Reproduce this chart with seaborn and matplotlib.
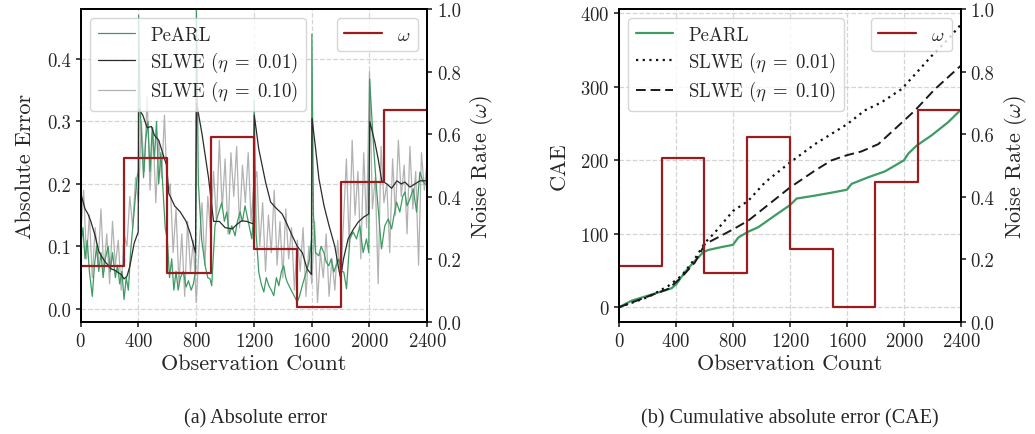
import numpy as np
import pandas as pd
import matplotlib
matplotlib.use('Agg')
import matplotlib.pyplot as plt
import seaborn as sns

# ---- noise rate omega (piecewise constant) ----
omega_edges = [0, 300, 600, 900, 1200, 1500, 1800, 2100, 2400]
omega_vals = [0.18, 0.525, 0.157, 0.59, 0.232, 0.048, 0.447, 0.677]

# ---- (a) absolute error ----
pearl_x = [0, 15, 30, 45, 60, 80, 95, 110, 125, 140, 155, 170, 190, 205, 220, 240, 255, 270, 285, 300,
           315, 330, 345, 360, 375, 390, 398, 401, 410, 420, 435, 450, 465, 480, 495, 510, 525, 540, 555,
           570, 585, 600, 615, 630, 645, 660, 675, 690, 711, 730, 746, 765, 780, 795, 801, 815, 838, 861,
           880, 896, 907, 930, 950, 977, 995, 1011, 1030, 1046, 1069, 1085, 1104, 1120, 1138, 1161, 1185,
           1198, 1201, 1215, 1233, 1250, 1268, 1285, 1303, 1320, 1337, 1355, 1372, 1390, 1406, 1420, 1430,
           1447, 1464, 1480, 1499, 1515, 1534, 1550, 1568, 1585, 1598, 1601, 1612, 1626, 1649, 1665, 1684,
           1700, 1718, 1735, 1753, 1770, 1788, 1805, 1822, 1841, 1864, 1887, 1910, 1933, 1956, 1979, 1995,
           2001, 2025, 2049, 2072, 2083, 2106, 2130, 2153, 2170, 2187, 2210, 2230, 2245, 2260, 2280, 2303,
           2326, 2349, 2372, 2400]
pearl_err = [0.10, 0.13, 0.08, 0.11, 0.06, 0.02, 0.07, 0.10, 0.06, 0.09, 0.05, 0.08, 0.10, 0.06, 0.09, 0.05,
             0.07, 0.04, 0.06, 0.015, 0.05, 0.03, 0.09, 0.13, 0.17, 0.21, 0.22, 0.47, 0.33, 0.28, 0.21, 0.27,
             0.30, 0.22, 0.29, 0.24, 0.30, 0.20, 0.25, 0.19, 0.13, 0.11, 0.05, 0.08, 0.03, 0.06, 0.03, 0.05,
             0.06, 0.035, 0.045, 0.03, 0.04, 0.06, 0.48, 0.20, 0.11, 0.07, 0.05, 0.048, 0.037, 0.133, 0.15,
             0.17, 0.14, 0.155, 0.12, 0.133, 0.117, 0.14, 0.155, 0.14, 0.165, 0.139, 0.112, 0.15, 0.334,
             0.12, 0.059, 0.04, 0.027, 0.05, 0.037, 0.03, 0.021, 0.05, 0.037, 0.06, 0.069, 0.05, 0.043, 0.035,
             0.027, 0.02, 0.011, 0.02, 0.037, 0.05, 0.064, 0.08, 0.112, 0.44, 0.15, 0.09, 0.085, 0.10, 0.09,
             0.075, 0.069, 0.08, 0.059, 0.07, 0.08, 0.06, 0.059, 0.032, 0.112, 0.123, 0.112, 0.133, 0.09,
             0.112, 0.09, 0.368, 0.272, 0.192, 0.128, 0.096, 0.133, 0.144, 0.128, 0.15, 0.171, 0.155, 0.18,
             0.187, 0.165, 0.176, 0.192, 0.155, 0.219, 0.203, 0.197]

slwe01_x = [0, 30, 50, 70, 100, 125, 150, 170, 190, 210, 235, 260, 280, 300, 320, 340, 370, 398, 402, 430,
            460, 490, 510, 540, 560, 580, 595, 610, 650, 690, 730, 760, 795, 802, 840, 885, 920, 960, 1000,
            1050, 1080, 1115, 1150, 1195, 1202, 1233, 1280, 1315, 1350, 1395, 1430, 1465, 1500, 1535, 1568,
            1598, 1602, 1625, 1650, 1685, 1720, 1760, 1790, 1800, 1820, 1852, 1890, 1922, 1960, 1995, 2002,
            2037, 2060, 2085, 2120, 2153, 2190, 2220, 2245, 2280, 2315, 2350, 2400]
slwe01_err = [0.185, 0.16, 0.152, 0.14, 0.117, 0.092, 0.082, 0.075, 0.07, 0.064, 0.062, 0.058, 0.055, 0.048,
              0.052, 0.068, 0.105, 0.123, 0.32, 0.31, 0.29, 0.292, 0.278, 0.27, 0.255, 0.24, 0.23, 0.185,
              0.165, 0.155, 0.14, 0.12, 0.09, 0.33, 0.28, 0.21, 0.14, 0.14, 0.13, 0.128, 0.135, 0.141, 0.14,
              0.136, 0.31, 0.256, 0.203, 0.171, 0.162, 0.152, 0.135, 0.117, 0.10, 0.09, 0.064, 0.055, 0.305,
              0.26, 0.208, 0.165, 0.133, 0.10, 0.06, 0.05, 0.08, 0.112, 0.128, 0.139, 0.147, 0.152, 0.30,
              0.267, 0.24, 0.205, 0.20, 0.193, 0.205, 0.20, 0.203, 0.195, 0.20, 0.205, 0.205]

slwe10_x = list(range(0, 2401, 20))
slwe10_err = [0.12, 0.19, 0.08, 0.15, 0.05, 0.13, 0.07, 0.16, 0.06, 0.12, 0.04, 0.14, 0.07, 0.11, 0.03, 0.12,
              0.10, 0.18, 0.13, 0.21, 0.17,
              0.30, 0.22, 0.34, 0.19, 0.29, 0.17, 0.27, 0.21, 0.31, 0.18,
              0.20, 0.09, 0.16, 0.04, 0.12, 0.02, 0.14, 0.06, 0.11, 0.01,
              0.10, 0.17, 0.07, 0.18, 0.12,
              0.22, 0.14, 0.27, 0.16, 0.24, 0.12, 0.25, 0.18, 0.26, 0.13, 0.23, 0.17, 0.25, 0.14, 0.20,
              0.22, 0.10, 0.17, 0.06, 0.15, 0.09, 0.19, 0.07, 0.14, 0.05, 0.16, 0.08, 0.13, 0.03, 0.11,
              0.06, 0.13, 0.02, 0.10, 0.04, 0.14, 0.01, 0.09, 0.05, 0.12, 0.02, 0.08, 0.03, 0.11, 0.04,
              0.14, 0.24, 0.10, 0.27, 0.15, 0.22, 0.08, 0.25, 0.13, 0.38, 0.16, 0.21, 0.04, 0.26, 0.17,
              0.20, 0.09, 0.24, 0.15, 0.27, 0.18, 0.23, 0.12, 0.26, 0.16, 0.22, 0.07, 0.25, 0.19, 0.24]

# ---- (b) cumulative absolute error ----
pearl_cae_x = [0, 89, 206, 323, 370, 405, 463, 533, 592, 627, 720, 800, 838, 908, 978, 1095, 1200, 1247,
               1375, 1492, 1600, 1633, 1750, 1867, 2000, 2030, 2089, 2194, 2311, 2400]
pearl_cae = [0, 9, 16, 23, 26, 32, 48, 63, 75, 78, 82, 85, 95, 103, 109, 125, 139, 148,
             152, 156, 160, 168, 177, 185, 200, 209, 220, 234, 252, 269]
slwe01_cae_x = [0, 206, 346, 440, 533, 604, 674, 800, 908, 1025, 1200, 1375, 1600, 1726, 1843, 1984, 2078,
                2194, 2311, 2400]
slwe01_cae = [0, 14, 29, 43, 66, 88, 102, 131, 145, 170, 197, 222, 249, 268, 279, 297, 317, 342, 365, 385]
slwe10_cae_x = [0, 346, 440, 533, 604, 674, 800, 908, 1025, 1200, 1375, 1492, 1600, 1700, 1820, 1961, 2078,
                2218, 2400]
slwe10_cae = [0, 25, 41, 61, 86, 93, 106, 118, 136, 163, 186, 200, 207, 212, 222, 247, 268, 297, 329]

GREEN = '#3d9b63'
RED = '#9b1c1f'
LBL_01 = r'SLWE ($\eta\;=\;0.01$)'
LBL_10 = r'SLWE ($\eta\;=\;0.10$)'

sns.set_theme(style='ticks')
plt.rcParams['font.family'] = ['cmr10', 'DejaVu Serif']
plt.rcParams['mathtext.fontset'] = 'cm'
plt.rcParams['axes.formatter.use_mathtext'] = True
plt.rcParams['axes.unicode_minus'] = False
plt.rcParams['legend.framealpha'] = 0.8
plt.rcParams['legend.edgecolor'] = '0.8'
plt.rcParams['legend.fancybox'] = True
plt.rcParams['legend.labelspacing'] = 0.3

omega_df = pd.DataFrame({'x': omega_edges, 'w': omega_vals + [omega_vals[-1]]})

fig = plt.figure(figsize=(10.35, 4.35), dpi=100)
ax_a = fig.add_axes([0.078, 0.2575, 0.3348, 0.7195])
ax_b = fig.add_axes([0.598, 0.2575, 0.3304, 0.7195])

TICK = 13.5
LAB = 16


def style_axes(ax, ax2):
    ax.set_xlim(0, 2400)
    ax.set_xticks([0, 400, 800, 1200, 1600, 2000, 2400])
    ax.grid(True, ls='--', color='#d4d4d4', lw=0.9)
    ax.set_axisbelow(True)
    ax2.set_ylim(0, 1)
    ax2.set_yticks([0, 0.2, 0.4, 0.6, 0.8, 1.0])
    for a in (ax, ax2):
        a.tick_params(labelsize=TICK, direction='out', length=3.5, width=1.2)
        for s in a.spines.values():
            s.set_linewidth(1.3)
            s.set_color('black')
    ax.set_xlabel('Observation Count', fontsize=LAB, labelpad=3)
    ax2.set_ylabel(r'Noise Rate ($\omega$)', fontsize=LAB, labelpad=5)
    ax2.yaxis.set_major_formatter(matplotlib.ticker.FormatStrFormatter('%.1f'))


# (a)
sns.lineplot(x=pearl_x, y=pearl_err, ax=ax_a, color=GREEN, lw=0.9, label='PeARL', zorder=3)
sns.lineplot(x=slwe01_x, y=slwe01_err, ax=ax_a, color='#2b2b2b', lw=0.9, label=LBL_01, zorder=4)
sns.lineplot(x=slwe10_x, y=slwe10_err, ax=ax_a, color='#a5a5a5', lw=0.9, alpha=0.85,
             label=LBL_10, zorder=2)
ax_a.set_ylim(-0.021, 0.48)
ax_a.set_yticks([0, 0.1, 0.2, 0.3, 0.4])
ax_a.yaxis.set_major_formatter(matplotlib.ticker.FormatStrFormatter('%.1f'))
ax_a.set_ylabel('Absolute Error', fontsize=LAB, labelpad=9)
ax_a.legend(loc='upper left', fontsize=TICK)
ax_a2 = ax_a.twinx()
sns.lineplot(data=omega_df, x='x', y='w', ax=ax_a2, color=RED, lw=1.6, drawstyle='steps-post',
             label=r'$\omega$')
ax_a2.legend(loc='upper right', fontsize=TICK)
style_axes(ax_a, ax_a2)

# (b)
sns.lineplot(x=pearl_cae_x, y=pearl_cae, ax=ax_b, color=GREEN, lw=1.6, label='PeARL')
sns.lineplot(x=slwe01_cae_x, y=slwe01_cae, ax=ax_b, color='#111111', lw=1.6, ls=(0, (1, 2)),
             label=LBL_01)
sns.lineplot(x=slwe10_cae_x, y=slwe10_cae, ax=ax_b, color='#1a1a1a', lw=1.4, ls=(0, (5, 2.5)),
             label=LBL_10)
ax_b.set_ylim(-20, 406)
ax_b.set_yticks([0, 100, 200, 300, 400])
ax_b.set_ylabel('CAE', fontsize=LAB, labelpad=8)
ax_b.legend(loc='upper left', fontsize=TICK)
ax_b2 = ax_b.twinx()
sns.lineplot(data=omega_df, x='x', y='w', ax=ax_b2, color=RED, lw=1.6, drawstyle='steps-post',
             label=r'$\omega$')
ax_b2.legend(loc='upper right', fontsize=TICK)
style_axes(ax_b, ax_b2)

fig.text(0.247, 0.038, '(a) Absolute error', ha='center', va='center', fontsize=14.5,
         family='Liberation Serif')
fig.text(0.763, 0.038, '(b) Cumulative absolute error (CAE)', ha='center', va='center', fontsize=14.5,
         family='Liberation Serif')

fig.savefig('out.png', dpi=100)
